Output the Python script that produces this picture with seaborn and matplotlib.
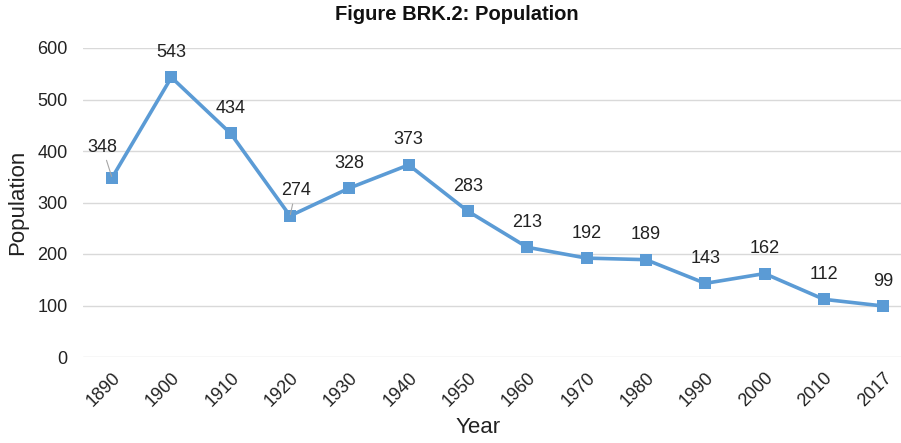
import pandas as pd
import matplotlib.pyplot as plt
import seaborn as sns

# Data
years = ["1890", "1900", "1910", "1920", "1930", "1940", "1950",
         "1960", "1970", "1980", "1990", "2000", "2010", "2017"]
population = [348, 543, 434, 274, 328, 373, 283, 213, 192, 189, 143, 162, 112, 99]

df = pd.DataFrame({"year": years, "population": population})
df["pos"] = range(len(df))

sns.set_style("white")
plt.rcParams["font.family"] = ["Liberation Sans", "DejaVu Sans"]

blue = "#5B9BD5"
txt = "#222222"

fig = plt.figure(figsize=(9.01, 4.43), dpi=100)
ax = fig.add_axes([83 / 901, 1 - 357 / 443, (901 - 83) / 901, (357 - 48) / 443])

sns.lineplot(data=df, x="pos", y="population", ax=ax, color=blue, linewidth=2.6,
             marker="s", markersize=8, markeredgewidth=0, markerfacecolor=blue)

# Data labels (first and fourth have leader lines)
offsets = {0: (-7, 22), 3: (4, 18)}
for i, (p, v) in enumerate(zip(df["pos"], df["population"])):
    if i in offsets:
        ax.annotate(str(v), xy=(p, v), xytext=offsets[i], textcoords="offset points",
                    ha="center", va="center", fontsize=13, color=txt,
                    arrowprops=dict(arrowstyle="-", color="#a6a6a6", lw=0.8,
                                    shrinkA=1, shrinkB=1), zorder=5)
    else:
        ax.annotate(str(v), xy=(p, v), xytext=(0, 18), textcoords="offset points",
                    ha="center", va="center", fontsize=13, color=txt)

ax.set_xlim(-0.49, 13.3)
ax.set_ylim(0, 600)
ax.set_yticks(range(0, 601, 100))
ax.set_xticks(df["pos"])
ax.set_xticklabels(years, rotation=45, ha="right", rotation_mode="anchor")
ax.tick_params(axis="both", labelsize=13, colors=txt, length=0)
ax.tick_params(axis="x", pad=9)
ax.tick_params(axis="y", pad=11)

ax.grid(axis="y", color="#d9d9d9", linewidth=1)
ax.set_axisbelow(True)
for s in ax.spines.values():
    s.set_visible(False)

ax.set_xlabel("Year", fontsize=16, color=txt)
ax.set_ylabel("Population", fontsize=16, color=txt)
ax.xaxis.set_label_coords((478 - 83) / (901 - 83), -(417 - 357) / (357 - 48))
ax.yaxis.set_label_coords((28 - 83) / (901 - 83), 0.5)

fig.text(457 / 901, 1 - 15 / 443, "Figure BRK.2: Population", ha="center", va="center",
         fontsize=14.5, fontweight="bold", color="#111111")

fig.savefig("out.png", dpi=100)
